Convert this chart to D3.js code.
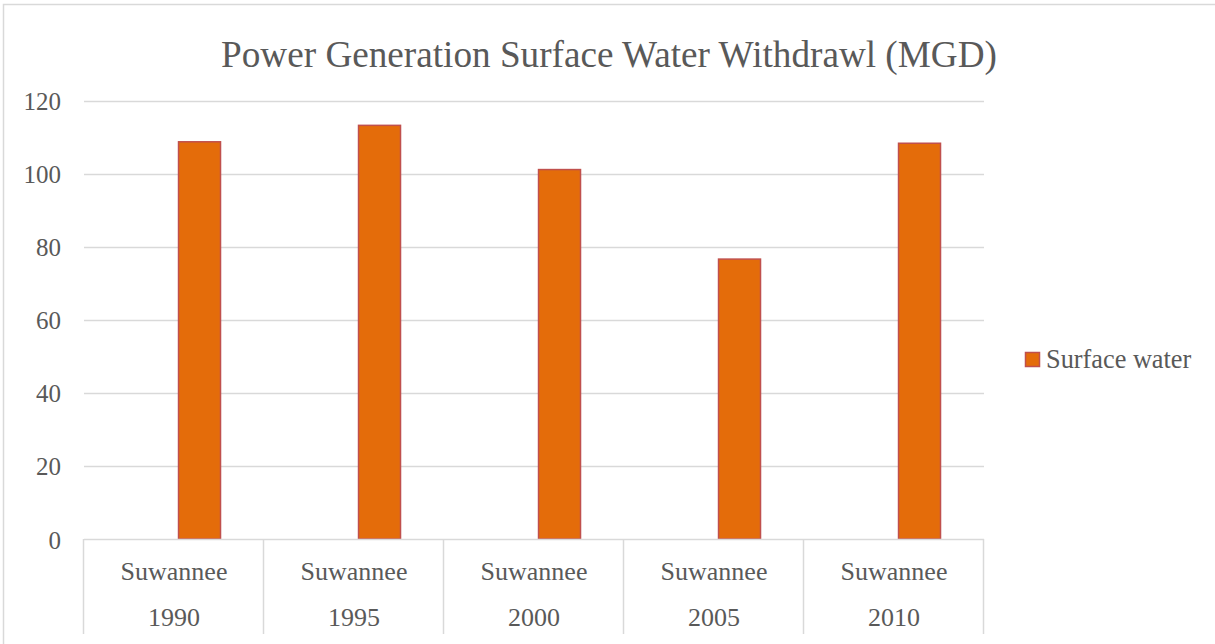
<!DOCTYPE html>
<html>
<head>
<meta charset="utf-8">
<script src="https://cdnjs.cloudflare.com/ajax/libs/d3/7.8.5/d3.min.js"></script>
<style>
  html, body { margin: 0; padding: 0; background: #ffffff; }
  svg { display: block; }
  text { font-family: "Liberation Serif", "Times New Roman", serif; fill: #595959; }
</style>
</head>
<body>
<svg id="chart" width="1215" height="644"></svg>
<script>
// ---- data ----
const title = "Power Generation Surface Water Withdrawl (MGD)";
const regions = ["Suwannee", "Suwannee", "Suwannee", "Suwannee", "Suwannee"];
const years = ["1990", "1995", "2000", "2005", "2010"];
const seriesNames = ["", "Surface water"];           // first series is empty in the source
const surfaceWater = [108.7, 113.2, 101.1, 76.6, 108.3];
const yTicks = [0, 20, 40, 60, 80, 100, 120];

// ---- layout ----
const W = 1215, H = 644;
const plot = { left: 84, right: 984, top: 100.5, bottom: 539 };
const svg = d3.select("#chart");

// outer chart border
svg.append("rect")
  .attr("x", 3.5).attr("y", 4.5)
  .attr("width", 1215).attr("height", 660)
  .attr("fill", "#fff").attr("stroke", "#d9d9d9").attr("stroke-width", 1.5);

const cats = years.map((y, i) => i);
const x = d3.scaleBand().domain(cats).range([plot.left, plot.right]).paddingInner(0).paddingOuter(0);
const y = d3.scaleLinear().domain([0, 120]).range([plot.bottom, plot.top]);

// sub-series scale inside each category (two series, first one empty)
const xs = d3.scaleBand().domain(seriesNames).range([0, x.bandwidth()])
  .paddingInner(0.1).paddingOuter(0.979).align(0.524);

// gridlines
svg.append("g")
  .selectAll("line").data(yTicks.filter(t => t > 0)).join("line")
  .attr("x1", plot.left).attr("x2", plot.right)
  .attr("y1", d => Math.round(y(d)) + 0.5).attr("y2", d => Math.round(y(d)) + 0.5)
  .attr("stroke", "#d9d9d9").attr("stroke-width", 1.5);

// y tick labels
const yAxis = d3.axisLeft(y).tickValues(yTicks).tickSize(0).tickPadding(0);
const gy = svg.append("g").attr("transform", "translate(61,0)").call(yAxis)
  .attr("font-family", null).attr("font-size", null);
gy.select(".domain").remove();
gy.selectAll("text")
  .attr("font-size", 25).attr("fill", "#595959")
  .attr("dy", "0.36em");

// bars
svg.append("g")
  .selectAll("rect").data(surfaceWater).join("rect")
  .attr("x", (d, i) => x(i) + xs("Surface water"))
  .attr("width", xs.bandwidth())
  .attr("y", d => y(d))
  .attr("height", d => y(0) - y(d))
  .attr("fill", "#e46c0a")
  .attr("stroke", "#c0504d").attr("stroke-width", 1.5);

// category axis line + separators
svg.append("line")
  .attr("x1", plot.left).attr("x2", plot.right)
  .attr("y1", plot.bottom + 0.5).attr("y2", plot.bottom + 0.5)
  .attr("stroke", "#d9d9d9").attr("stroke-width", 1.5);
const bounds = cats.map(i => x(i)).concat([plot.right]);
svg.append("g").selectAll("line").data(bounds).join("line")
  .attr("x1", d => d - 0.5).attr("x2", d => d - 0.5)
  .attr("y1", plot.bottom).attr("y2", 634)
  .attr("stroke", "#d9d9d9").attr("stroke-width", 1.5);

// category labels (two levels)
const gc = svg.append("g").attr("font-size", 26).attr("text-anchor", "middle");
gc.selectAll("text.r").data(regions).join("text").attr("class", "r")
  .attr("x", (d, i) => x(i) + x.bandwidth() / 2).attr("y", 580).text(d => d);
gc.selectAll("text.yr").data(years).join("text").attr("class", "yr")
  .attr("x", (d, i) => x(i) + x.bandwidth() / 2).attr("y", 626).text(d => d);

// title
svg.append("text")
  .attr("x", 609).attr("y", 67)
  .attr("text-anchor", "middle").attr("font-size", 37.2)
  .text(title);

// legend
const lg = svg.append("g").attr("transform", "translate(1025,352)");
lg.append("rect").attr("x", 0.5).attr("y", 0.5).attr("width", 14).attr("height", 14)
  .attr("fill", "#e46c0a").attr("stroke", "#c0504d").attr("stroke-width", 1.5);
lg.append("text").attr("x", 21).attr("y", 15.5).attr("font-size", 26.3).text(seriesNames[1]);
</script>
</body>
</html>
